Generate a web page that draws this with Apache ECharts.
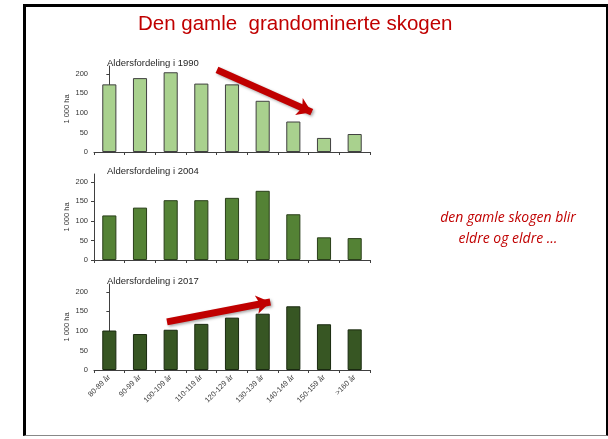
<!DOCTYPE html>
<html><head><meta charset="utf-8">
<script src="https://cdn.jsdelivr.net/npm/echarts@6/dist/echarts.min.js"></script>
<style>
html,body{margin:0;padding:0;background:#fff;overflow:hidden;}
#frame{position:absolute;left:23px;top:4px;width:580px;height:428px;border-left:3px solid #000;border-top:3px solid #000;border-right:3px solid #000;border-bottom:1px solid #888;}
#c{position:absolute;left:0;top:0;width:608px;height:439px;}
</style></head>
<body><div id="frame"></div><div id="c"></div>
<script>
const categories = ['80-89 år','90-99 år','100-109 år','110-119 år','120-129 år','130-139 år','140-149 år','150-159 år','>160 år'];
const values1990 = [173, 189, 204, 175, 173, 131, 78, 36, 46];
const values2004 = [114, 134, 153, 153, 159, 177, 117, 58, 56];
const values2017 = [101, 92, 103, 118, 134, 144, 163, 117, 104];
const yTicks = [0, 50, 100, 150, 200];
const panelTitles = ['Aldersfordeling i 1990','Aldersfordeling i 2004','Aldersfordeling i 2017'];
const arrow1990 = [[3.51, 210], [6.6, 102]];
const arrow2017 = [[1.88, 123], [5.25, 174]];

const chart = echarts.init(document.getElementById('c'), null, {renderer:'canvas'});
const tops = [66, 174, 284];
const font = 'Liberation Sans';
const grids = tops.map(t => ({left:94, width:276, top:t, height:86}));
const xAxes = [];
const yAxes = [];
for (let i=0;i<3;i++){
  xAxes.push({type:'category', gridIndex:i, data:categories, boundaryGap:true,
    axisLine:{lineStyle:{color:'#404040', width:1}},
    axisTick:{show:true, length:3, inside:false, lineStyle:{color:'#404040'}},
    axisLabel:{show:i===2, rotate:45, fontSize:7.5, color:'#404040', fontFamily:font, margin:6, interval:0}});
  yAxes.push({type:'value', gridIndex:i, min:0, max:220, interval:50,
    name:'1 000 ha', nameLocation:'middle', nameGap:23, nameRotate:90,
    nameTextStyle:{fontSize:7.5, color:'#333', fontFamily:font},
    splitLine:{show:false},
    axisLine:{show:true, lineStyle:{color:'#404040', width:1}},
    axisTick:{show:true, length:3, customValues:yTicks, lineStyle:{color:'#404040'}},
    axisLabel:{fontSize:7.5, color:'#333', fontFamily:font, margin:6, customValues:yTicks}});
}
// hidden value axes for arrow annotations
xAxes.push({type:'value', gridIndex:0, min:-0.5, max:8.5, show:false});
xAxes.push({type:'value', gridIndex:2, min:-0.5, max:8.5, show:false});
yAxes.push({type:'value', gridIndex:0, min:0, max:220, show:false});
yAxes.push({type:'value', gridIndex:2, min:0, max:220, show:false});

const barStyle = (fill, border) => ({color:fill, borderColor:border, borderWidth:1});
const arrowSeries = (xi, yi, pts) => ({type:'lines', coordinateSystem:'cartesian2d', xAxisIndex:xi, yAxisIndex:yi,
  symbol:['none','arrow'], symbolSize:[17,14], silent:true, z:10,
  lineStyle:{color:'#c00000', width:7, opacity:1, curveness:0, shadowBlur:3, shadowColor:'rgba(0,0,0,0.35)', shadowOffsetX:1.5, shadowOffsetY:1.5},
  data:[{coords:pts}]});

chart.setOption({
  animation:false,
  grid:grids, xAxis:xAxes, yAxis:yAxes,
  title:[
    {text:'Den gamle  grandominerte skogen', left:133, top:9, textStyle:{fontFamily:font, fontSize:20.5, fontWeight:'normal', color:'#c00000'}},
    ...panelTitles.map((t,i)=>({text:t, left:102, top:tops[i]-13, textStyle:{fontFamily:font, fontSize:9.5, fontWeight:'normal', color:'#262626'}}))
  ],
  graphic:[
    {type:'text', x:508, y:211, style:{text:'den gamle skogen blir', fill:'#c00000', font:'italic 14px "Open Sans"', textAlign:'center'}},
    {type:'text', x:508, y:232, style:{text:'eldre og eldre …', fill:'#c00000', font:'italic 14px "Open Sans"', textAlign:'center'}}
  ],
  series:[
    {type:'bar', xAxisIndex:0, yAxisIndex:0, data:values1990, barWidth:'46%', itemStyle:barStyle('#a9d18e','#404040')},
    {type:'bar', xAxisIndex:1, yAxisIndex:1, data:values2004, barWidth:'46%', itemStyle:barStyle('#548235','#2a3f1a')},
    {type:'bar', xAxisIndex:2, yAxisIndex:2, data:values2017, barWidth:'46%', itemStyle:barStyle('#375623','#1a2a10')},
    arrowSeries(3, 3, arrow1990),
    arrowSeries(4, 4, arrow2017)
  ]
});
</script></body></html>
